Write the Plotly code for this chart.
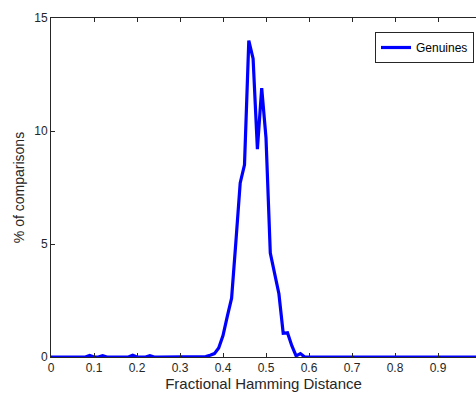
import plotly.graph_objects as go

# Fractional Hamming distance bins
hd = [round(i * 0.01, 2) for i in range(101)]

# % of comparisons per bin (Genuines)
genuines = [
    0, 0, 0, 0, 0, 0, 0, 0, 0, 0.07,      # 0.00-0.09
    0, 0, 0.06, 0, 0, 0, 0, 0, 0, 0.08,   # 0.10-0.19
    0, 0, 0, 0.06, 0, 0, 0, 0, 0, 0,      # 0.20-0.29
    0, 0, 0, 0, 0, 0, 0.02, 0.08, 0.15, 0.4,  # 0.30-0.39
    0.95, 1.8, 2.6, 5.1, 7.7, 8.5, 14.0, 13.2, 9.2, 11.9,  # 0.40-0.49
    9.7, 4.6, 3.7, 2.8, 1.05, 1.07, 0.5, 0.05, 0.15, 0,    # 0.50-0.59
    0, 0, 0, 0, 0, 0, 0, 0, 0, 0,         # 0.60-0.69
    0, 0, 0, 0, 0, 0, 0, 0, 0, 0,         # 0.70-0.79
    0, 0, 0, 0, 0, 0, 0, 0, 0, 0,         # 0.80-0.89
    0, 0, 0, 0, 0, 0, 0, 0, 0, 0,         # 0.90-0.99
    0,                                    # 1.00
]

x_ticks = [0, 0.1, 0.2, 0.3, 0.4, 0.5, 0.6, 0.7, 0.8, 0.9]
x_tick_labels = ["0", "0.1", "0.2", "0.3", "0.4", "0.5", "0.6", "0.7", "0.8", "0.9"]
y_ticks = [0, 5, 10, 15]

fig = go.Figure()
fig.add_trace(go.Scatter(
    x=hd, y=genuines, mode="lines", name="Genuines",
    line=dict(color="#0000FF", width=3.2),
))

font = dict(family="Liberation Sans, Arial, sans-serif", size=12, color="#262626")

fig.update_layout(
    width=476, height=401,
    margin=dict(l=51, r=0, t=18, b=44, autoexpand=False),
    paper_bgcolor="white", plot_bgcolor="white",
    font=font,
    showlegend=True,
    legend=dict(
        x=(474 - 51) / 425, y=1 - (32 - 18) / 339, xanchor="right", yanchor="top",
        bordercolor="#262626", borderwidth=1, bgcolor="white",
        font=dict(family="Liberation Sans, Arial, sans-serif", size=12, color="#000"),
        itemwidth=30, tracegroupgap=0,
    ),
    xaxis=dict(
        range=[0, 425 / 430], tickvals=x_ticks, ticktext=x_tick_labels,
        ticks="inside", ticklen=4, tickcolor="#262626",
        showline=True, linecolor="#262626", linewidth=1, mirror="ticks",
        showgrid=False, zeroline=False, automargin=False,
        title=dict(text="Fractional Hamming Distance", font=dict(size=15, color="#262626"), standoff=4),
        tickfont=dict(size=12, color="#262626"),
    ),
    yaxis=dict(
        range=[0, 15], tickvals=y_ticks,
        ticks="inside", ticklen=4, tickcolor="#262626",
        showline=True, linecolor="#262626", linewidth=1,
        showgrid=False, zeroline=False, automargin=False,
        title=dict(text="% of comparisons", font=dict(size=14, color="#262626"), standoff=6),
        tickfont=dict(size=12, color="#262626"),
    ),
)

fig.write_html(
    "out.html",
    config={"displayModeBar": False},
    post_script="document.body.style.margin='0';document.body.style.overflow='hidden';",
)
